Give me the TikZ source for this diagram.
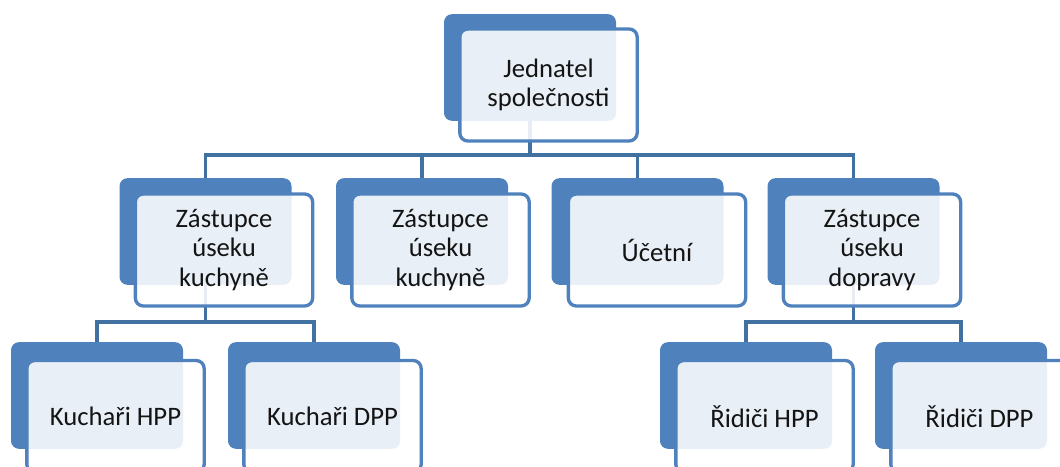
\documentclass[tikz,border=0pt]{standalone}
\usepackage{fontspec}
\setmainfont{Carlito}
\usepackage{xcolor}
\definecolor{colorb}{RGB}{79,129,189}
\definecolor{colorl}{RGB}{65,113,160}
\definecolor{colort}{RGB}{20,20,20}
\usepackage{tikz}
\usetikzlibrary{shapes}
\tikzstyle{blockB} = [fill=colorb, rounded corners=6pt, inner sep=0pt, minimum width=129pt, minimum height=80pt]
\tikzstyle{blockF} = [fill=white, fill opacity=0.88, text opacity=1, draw=colorb, draw opacity=1, line width=2.5pt, rounded corners=6pt, minimum width=133pt, minimum height=84pt, align=center, text=colort, font=\fontsize{20}{22}\selectfont]
\tikzstyle{link} = [line width=2.6pt, draw=colorl]

\begin{document}
\begin{tikzpicture}[x=0.75pt, y=-0.75pt]
    \clip (0,0) rectangle (1060,467);

    % back boxes
    \node[blockB] (b1) at (530,67.5) {};
    \node[blockB] (b2) at (205.5,231.5) {};
    \node[blockB] (b3) at (422,231.5) {};
    \node[blockB] (b4) at (637.5,231.5) {};
    \node[blockB] (b5) at (853.5,231.5) {};
    \node[blockB] (b6) at (97,395.5) {};
    \node[blockB] (b7) at (314,395.5) {};
    \node[blockB] (b8) at (746,395.5) {};
    \node[blockB] (b9) at (961,395.5) {};

    % links
    \coordinate (c1) at (530,155);
    \coordinate (c2) at (205.5,322);
    \coordinate (c5) at (853.5,322);
    \draw[link] (b1.south) -- (c1);
    \draw[link] (b2.north) |- (c1) -| (b5.north);
    \draw[link] (b3.north) |- (c1);
    \draw[link] (b4.north) |- (c1);
    \draw[link] (b2.south) -- (c2);
    \draw[link] (b6.north) |- (c2) -| (b7.north);
    \draw[link] (b5.south) -- (c5);
    \draw[link] (b8.north) |- (c5) -| (b9.north);

    % front boxes
    \node[blockF] (n1) at (548.5,85) {Jednatel\\společnosti};
    \node[blockF] (n2) at (224,250) {Zástupce\\úseku\\kuchyně};
    \node[blockF] (n3) at (440.5,250) {Zástupce\\úseku\\kuchyně};
    \node[blockF] (n4) at (657,250) {Účetní};
    \node[blockF] (n5) at (872,250) {Zástupce\\úseku\\dopravy};
    \node[blockF] (n6) at (115.5,416.5) {Kuchaři HPP};
    \node[blockF] (n7) at (332.5,416.5) {Kuchaři DPP};
    \node[blockF] (n8) at (764.5,416.5) {Řidiči HPP};
    \node[blockF] (n9) at (979.5,416.5) {Řidiči DPP};
  \end{tikzpicture}
\end{document}
